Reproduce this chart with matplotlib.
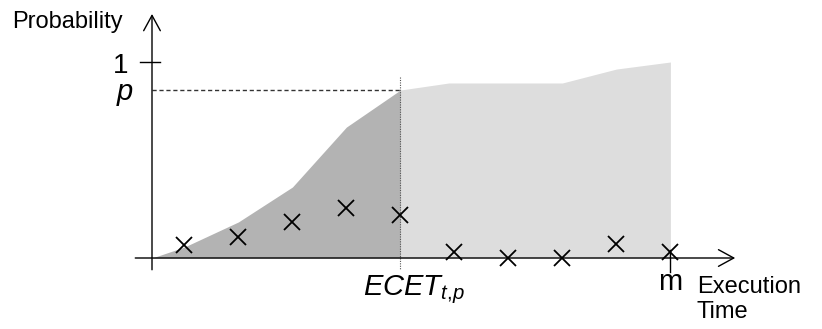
import matplotlib
matplotlib.use("Agg")
import matplotlib.pyplot as plt

plt.rcParams["font.family"] = ["Liberation Sans", "DejaVu Sans"]
plt.rcParams["mathtext.fontset"] = "custom"
plt.rcParams["mathtext.it"] = "Liberation Sans:italic"
plt.rcParams["mathtext.rm"] = "Liberation Sans"

# sampled execution times and their observed probabilities
exec_times = [0.6, 1.6, 2.6, 3.6, 4.6, 5.6, 6.6, 7.6, 8.6, 9.6]
probs = [0.066, 0.105, 0.182, 0.257, 0.219, 0.032, 0.0, 0.0, 0.07, 0.032]

# cumulative distribution, split at ECET
cdf_x_below = [0.0, 0.6, 1.6, 2.6, 3.6, 4.6]
cdf_y_below = [0.0, 0.056, 0.184, 0.362, 0.668, 0.857]
cdf_x_above = [4.6, 5.5, 7.6, 8.6, 9.6]
cdf_y_above = [0.857, 0.893, 0.893, 0.964, 1.0]

p_level = 0.857
ecet = 4.6
t_max = 9.6

DARK = "#b3b3b3"
LIGHT = "#dddddd"

fig = plt.figure(figsize=(8.22, 3.29), dpi=100)
ax = fig.add_axes([0, 0, 1, 1])
ax.set_xlim(-152 / 54, (822 - 152) / 54)
ax.set_ylim((258 - 329) / 196, 258 / 196)
ax.axis("off")

# shaded CDF
ax.fill_between(cdf_x_below, 0, cdf_y_below, color=DARK, lw=0, zorder=1)
ax.fill_between(cdf_x_above, 0, cdf_y_above, color=LIGHT, lw=0, zorder=1)

# p level and ECET guides
ax.plot([0, ecet], [p_level, p_level], color="#333333", lw=1.0,
        dashes=(3, 2), zorder=2)
ax.plot([ecet, ecet], [0.923, -0.06], color="#555555", lw=0.8,
        ls=(0, (1, 1.2)), zorder=2)

# axes with open arrow heads
arrow = dict(arrowstyle="->,head_length=0.55,head_width=0.3",
             color="black", lw=1.0, mutation_scale=20, shrinkA=0, shrinkB=0)
ax.annotate("", xy=(0, 1.245), xytext=(0, -0.06), arrowprops=arrow, zorder=3)
ax.annotate("", xy=(10.8, 0), xytext=(-0.31, 0), arrowprops=arrow, zorder=3)

# ticks at 1 and m
ax.plot([-0.22, 0.15], [1.0, 1.0], color="black", lw=1.0, zorder=3)
ax.plot([t_max, t_max], [0.04, -0.07], color="black", lw=1.0, zorder=3)

# observed samples
ax.plot(exec_times, probs, ls="none", marker="x", ms=11.5, mew=1.3,
        color="black", zorder=4)

# labels
ax.text(-2.59, 1.173, "Probability", fontsize=17, ha="left", va="baseline")
ax.text(-0.44, 0.944, "1", fontsize=20, ha="right", va="baseline")
ax.text(-0.35, 0.806, "p", fontsize=21, style="italic", ha="right",
        va="baseline")
ax.text(3.91, -0.189, r"$ECET_{t{,}p}$", fontsize=21, ha="left",
        va="baseline")
ax.text(t_max, -0.163, "m", fontsize=21, ha="center", va="baseline")
ax.text(10.09, -0.306, "Execution\nTime", fontsize=17, ha="left",
        va="baseline", linespacing=1.2)

fig.savefig("out.png", dpi=100)
